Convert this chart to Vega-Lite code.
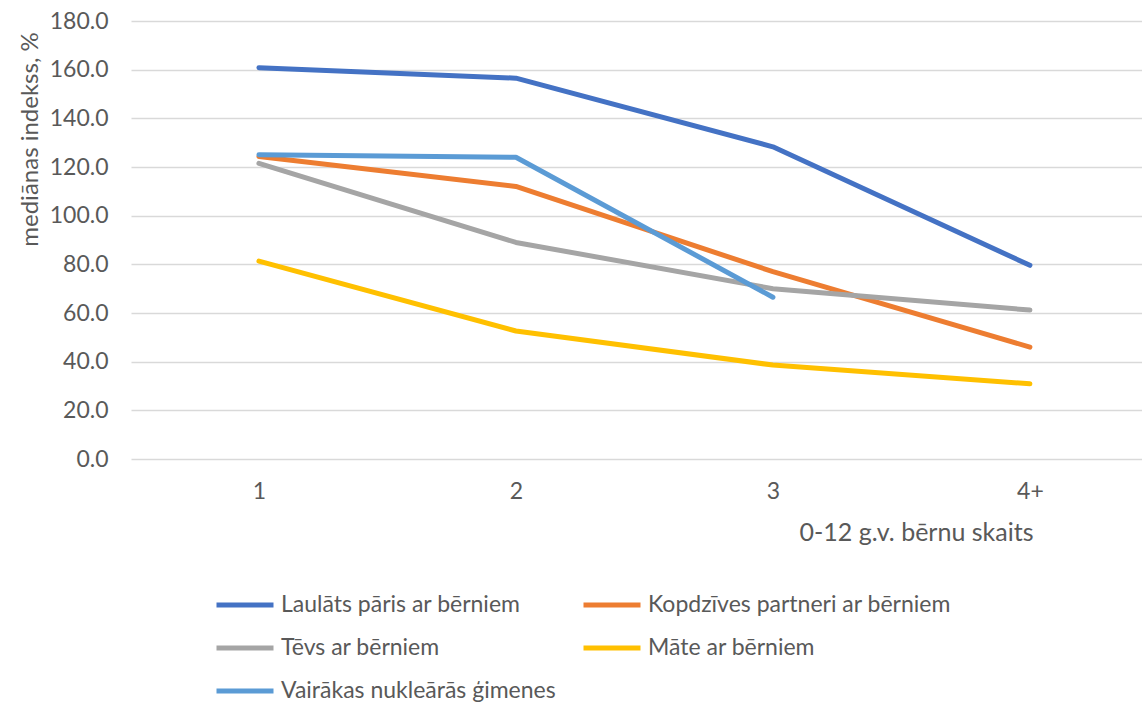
{
  "$schema": "https://vega.github.io/schema/vega-lite/v6.json",
  "width": 1011,
  "height": 438,
  "autosize": "none",
  "padding": {"left": 131, "top": 21, "right": 0, "bottom": 249},
  "background": "white",
  "config": {
    "view": {"stroke": null},
    "font": "Lato",
    "axis": {"labelColor": "#595959", "titleColor": "#595959", "labelFont": "Lato", "titleFont": "Lato", "labelFontWeight": "normal", "titleFontWeight": "normal"}
  },
  "data": {
    "values": [
      {"skaits": "1", "grupa": "Laulāts pāris ar bērniem", "vertiba": 160.8},
      {"skaits": "2", "grupa": "Laulāts pāris ar bērniem", "vertiba": 156.5},
      {"skaits": "3", "grupa": "Laulāts pāris ar bērniem", "vertiba": 128.3},
      {"skaits": "4+", "grupa": "Laulāts pāris ar bērniem", "vertiba": 79.6},
      {"skaits": "1", "grupa": "Kopdzīves partneri ar bērniem", "vertiba": 124.3},
      {"skaits": "2", "grupa": "Kopdzīves partneri ar bērniem", "vertiba": 112.0},
      {"skaits": "3", "grupa": "Kopdzīves partneri ar bērniem", "vertiba": 77.0},
      {"skaits": "4+", "grupa": "Kopdzīves partneri ar bērniem", "vertiba": 46.0},
      {"skaits": "1", "grupa": "Tēvs ar bērniem", "vertiba": 121.5},
      {"skaits": "2", "grupa": "Tēvs ar bērniem", "vertiba": 89.0},
      {"skaits": "3", "grupa": "Tēvs ar bērniem", "vertiba": 70.0},
      {"skaits": "4+", "grupa": "Tēvs ar bērniem", "vertiba": 61.2},
      {"skaits": "1", "grupa": "Māte ar bērniem", "vertiba": 81.3},
      {"skaits": "2", "grupa": "Māte ar bērniem", "vertiba": 52.6},
      {"skaits": "3", "grupa": "Māte ar bērniem", "vertiba": 38.6},
      {"skaits": "4+", "grupa": "Māte ar bērniem", "vertiba": 30.9},
      {"skaits": "1", "grupa": "Vairākas nukleārās ģimenes", "vertiba": 125.0},
      {"skaits": "2", "grupa": "Vairākas nukleārās ģimenes", "vertiba": 124.0},
      {"skaits": "3", "grupa": "Vairākas nukleārās ģimenes", "vertiba": 66.5}
    ]
  },
  "mark": {"type": "line", "strokeWidth": 5, "strokeCap": "round", "strokeJoin": "round"},
  "encoding": {
    "x": {
      "field": "skaits",
      "type": "ordinal",
      "sort": ["1", "2", "3", "4+"],
      "scale": {"type": "point", "padding": 0.467, "align": 0.533},
      "axis": {
        "title": "0-12 g.v. bērnu skaits",
        "labelAngle": 0,
        "domain": false,
        "ticks": false,
        "grid": false,
        "labelFontSize": 23,
        "labelPadding": 21,
        "titleFontSize": 25,
        "titleAlign": "right",
        "titleAnchor": null,
        "titleX": 902,
        "titleY": 73,
        "titleBaseline": "middle"
      }
    },
    "y": {
      "field": "vertiba",
      "type": "quantitative",
      "scale": {"domain": [0, 180], "nice": false},
      "axis": {
        "title": "mediānas indekss, %",
        "values": [0, 20, 40, 60, 80, 100, 120, 140, 160, 180],
        "format": ".1f",
        "domain": false,
        "ticks": false,
        "grid": true,
        "gridColor": "#D9D9D9",
        "gridWidth": 1.5,
        "labelFontSize": 23,
        "labelPadding": 23,
        "titleFontSize": 24,
        "titleAngle": -90,
        "titleX": -101,
        "titleY": 118,
        "titleAlign": "center",
        "titleBaseline": "middle"
      }
    },
    "color": {
      "field": "grupa",
      "type": "nominal",
      "sort": null,
      "scale": {
        "domain": ["Laulāts pāris ar bērniem", "Kopdzīves partneri ar bērniem", "Tēvs ar bērniem", "Māte ar bērniem", "Vairākas nukleārās ģimenes"],
        "range": ["#4472C4", "#ED7D31", "#A5A5A5", "#FFC000", "#5B9BD5"]
      },
      "legend": {
        "title": null,
        "orient": "none",
        "direction": "horizontal",
        "legendX": 83,
        "legendY": 553,
        "columns": 2,
        "symbolType": "stroke",
        "symbolSize": 3249,
        "symbolStrokeWidth": 5,
        "labelFontSize": 23,
        "labelColor": "#595959",
        "labelFont": "Lato",
        "labelOffset": 5,
        "rowPadding": -10,
        "columnPadding": 17,
        "labelLimit": 400
      }
    }
  }
}
